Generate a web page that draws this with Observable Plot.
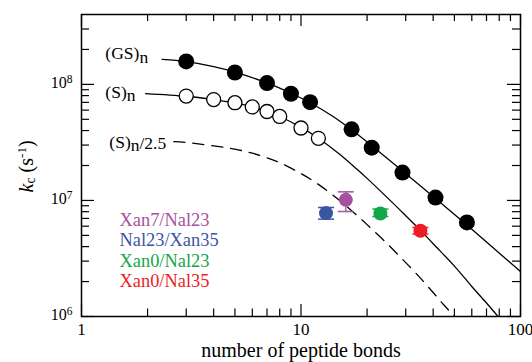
<!DOCTYPE html>
<html><head><meta charset="utf-8">
<script src="https://cdn.jsdelivr.net/npm/d3@7"></script>
<script src="https://cdn.jsdelivr.net/npm/@observablehq/plot@0.6"></script>
<style>
html,body{margin:0;padding:0;background:#fff;}
svg{font-family:"Liberation Serif","Times New Roman",serif;}
</style></head><body><div id="chart"></div>
<script>
// ---- data ----
const gsBonds = [3, 5, 7, 9, 11, 17, 21, 29, 41, 57];
const gsRate = [1.577e8, 1.266e8, 1.026e8, 8.30e7, 7.02e7, 4.10e7, 2.85e7, 1.737e7, 1.059e7, 6.46e6];
const sBonds = [3, 4, 5, 6, 7, 8, 10, 12];
const sRate = [7.93e7, 7.40e7, 6.95e7, 6.39e7, 5.84e7, 5.29e7, 4.21e7, 3.43e7];

const gsFitBonds = [2.33, 3, 4, 5, 7, 9, 11, 14, 17, 21, 29, 41, 57, 100];
const gsFitRate = [1.641e8, 1.570e8, 1.424e8, 1.277e8, 1.029e8, 8.386e7, 6.95e7, 5.29e7, 4.063e7, 2.965e7, 1.797e7, 1.040e7, 6.13e6, 2.437e6];
const sFitBonds = [1.957, 3, 4, 5, 6, 7, 8, 10, 12, 15, 18, 20, 25, 30, 35, 40, 50, 60, 70, 80];
const sFitRate = [8.34e7, 7.90e7, 7.39e7, 6.92e7, 6.38e7, 5.83e7, 5.29e7, 4.26e7, 3.44e7, 2.50e7, 1.855e7, 1.549e7, 1.036e7, 7.39e6, 5.54e6, 4.24e6, 2.72e6, 1.815e6, 1.307e6, 9.73e5];
const dashFitBonds = [2.634, 3, 4, 5, 6, 7, 8, 10, 12, 15, 18, 20, 25, 30, 35, 40, 45, 50, 55];
const dashFitRate = [3.21e7, 3.16e7, 2.953e7, 2.767e7, 2.551e7, 2.329e7, 2.113e7, 1.703e7, 1.375e7, 9.98e6, 7.42e6, 6.19e6, 4.14e6, 2.913e6, 2.143e6, 1.609e6, 1.243e6, 1.0e6, 8.11e5];

const pairNames = ["Xan7/Nal23", "Nal23/Xan35", "Xan0/Nal23", "Xan0/Nal35"];
const pairBonds = [16, 13, 23, 35];
const pairRate = [1.012e7, 7.78e6, 7.72e6, 5.48e6];
const pairLow = [8.03e6, 6.90e6, 7.27e6, 5.13e6];
const pairHigh = [1.186e7, 8.69e6, 8.42e6, 5.85e6];
const pairColors = ["#a6519f", "#3b55a5", "#12a64b", "#ec1c24"];

const curveLabels = ["(GS)n", "(S)n", "(S)n/2.5"];
const xTickLabels = [1, 10, 100];
const xMinor = [2, 3, 4, 5, 6, 7, 8, 9, 20, 30, 40, 50, 60, 70, 80, 90];
const yTickLabels = [1e6, 1e7, 1e8];
const yMinor = [2e6, 3e6, 4e6, 5e6, 6e6, 7e6, 8e6, 9e6, 2e7, 3e7, 4e7, 5e7, 6e7, 7e7, 8e7, 9e7, 2e8, 3e8];
const xTitle = "number of peptide bonds";
const yTitle = "kc (s-1)";

// ---- tables ----
const zip = (xs, ys) => xs.map((n, i) => ({n, k: ys[i]}));
const gs = zip(gsBonds, gsRate);
const s = zip(sBonds, sRate);
const gsFit = zip(gsFitBonds, gsFitRate);
const sFit = zip(sFitBonds, sFitRate);
const dashFit = zip(dashFitBonds, dashFitRate);
const pairs = pairNames.map((name, i) => ({name, n: pairBonds[i], k: pairRate[i], lo: pairLow[i], hi: pairHigh[i], color: pairColors[i]}));

const W = 532, H = 362, mL = 81, mR = 12, mT = 14, mB = 46;
const innerW = W - mL - mR, innerH = H - mT - mB;

const capSymbol = {draw(ctx, size) { const w = Math.sqrt(size / Math.PI); ctx.moveTo(-w, 0); ctx.lineTo(w, 0); }};

const plot = Plot.plot({
  width: W, height: H,
  marginLeft: mL, marginRight: mR, marginTop: mT, marginBottom: mB,
  style: {fontFamily: '"Liberation Serif","Times New Roman",serif', background: "white", color: "black"},
  x: {type: "log", domain: [1, 100], axis: null},
  y: {type: "log", domain: [1e6, 4e8], axis: null},
  marks: [
    // inward ticks on all four sides
    Plot.tickX(xTickLabels, {x: d => d, insetTop: innerH - 12, stroke: "black", strokeWidth: 1.2}),
    Plot.tickX(xTickLabels, {x: d => d, insetBottom: innerH - 12, stroke: "black", strokeWidth: 1.2}),
    Plot.tickX(xMinor, {x: d => d, insetTop: innerH - 7.5, stroke: "black", strokeWidth: 1.2}),
    Plot.tickX(xMinor, {x: d => d, insetBottom: innerH - 7, stroke: "black", strokeWidth: 1.2}),
    Plot.tickY(yTickLabels, {y: d => d, insetRight: innerW - 13, stroke: "black", strokeWidth: 1.2}),
    Plot.tickY(yTickLabels, {y: d => d, insetLeft: innerW - 13, stroke: "black", strokeWidth: 1.2}),
    Plot.tickY(yMinor, {y: d => d, insetRight: innerW - 8, stroke: "black", strokeWidth: 1.2}),
    Plot.tickY(yMinor, {y: d => d, insetLeft: innerW - 8, stroke: "black", strokeWidth: 1.2}),
    // fitted curves
    Plot.line(gsFit, {x: "n", y: "k", stroke: "black", strokeWidth: 1.3, curve: "catmull-rom", clip: true}),
    Plot.line(sFit, {x: "n", y: "k", stroke: "black", strokeWidth: 1.3, curve: "catmull-rom", clip: true}),
    Plot.line(dashFit, {x: "n", y: "k", stroke: "black", strokeWidth: 1.3, strokeDasharray: "11,8", curve: "catmull-rom", clip: true}),
    // error bars
    Plot.ruleX(pairs, {x: "n", y1: "lo", y2: "hi", stroke: "color", strokeWidth: 1.3}),
    Plot.dot(pairs, {x: "n", y: "lo", r: 8, symbol: capSymbol, stroke: "color", strokeWidth: 1.5, fill: "none"}),
    Plot.dot(pairs, {x: "n", y: "hi", r: 8, symbol: capSymbol, stroke: "color", strokeWidth: 1.5, fill: "none"}),
    Plot.dot(pairs, {x: "n", y: "k", r: 7, fill: "color", stroke: "none"}),
    // data points
    Plot.dot(gs, {x: "n", y: "k", r: 8, fill: "black", stroke: "none"}),
    Plot.dot(s, {x: "n", y: "k", r: 7, fill: "white", stroke: "black", strokeWidth: 1.3}),
    Plot.frame({stroke: "black", strokeWidth: 1.5}),
    // tick labels
    Plot.text(xTickLabels, {x: d => d, frameAnchor: "bottom", dy: 6, lineAnchor: "top", text: d => String(d), fontSize: 17, fill: "black"}),
    Plot.text(yTickLabels, {y: d => d, frameAnchor: "left", dx: -9, dy: -1.5, textAnchor: "end", text: d => "10^" + Math.round(Math.log10(d)), fontSize: 16, fill: "black"}),
    // axis titles
    Plot.text([xTitle], {frameAnchor: "bottom", dy: 40, text: d => d, fontSize: 20, fill: "black"}),
    Plot.text([yTitle], {frameAnchor: "left", dx: -55, dy: 27, rotate: -90, textAnchor: "start", lineAnchor: "middle", text: d => d, fontSize: 20, fill: "black"}),
    // curve labels at the start of each curve
    Plot.text([gsFit[0]], {x: "n", y: "k", text: () => curveLabels[0], textAnchor: "end", lineAnchor: "middle", dx: -14, dy: -5.8, fontSize: 17.5, fill: "black"}),
    Plot.text([sFit[0]], {x: "n", y: "k", text: () => curveLabels[1], textAnchor: "end", lineAnchor: "middle", dx: -10, dy: -1.4, fontSize: 17.5, fill: "black"}),
    Plot.text([dashFit[0]], {x: "n", y: "k", text: () => curveLabels[2], textAnchor: "end", lineAnchor: "middle", dx: -7.6, dy: 0.4, fontSize: 17.5, fill: "black"}),
    // coloured legend
    ...pairs.map((p, i) => Plot.text([p.name], {frameAnchor: "top-left", dx: 38, dy: 205.2 + 20.5 * i, textAnchor: "start", lineAnchor: "middle", text: d => d, fontSize: 18.4, fill: p.color}))
  ]
});

document.getElementById("chart").appendChild(plot);

// rich text (sub/superscripts, italics) as real tspans
function rich(node, segs) {
  const t = d3.select(node); t.text(null);
  let cur = 0;
  for (const [str, shift, fs, it] of segs) {
    const ts = t.append("tspan").text(str);
    const d = shift - cur; if (d) ts.attr("dy", d); cur = shift;
    if (fs) ts.attr("font-size", fs);
    if (it) ts.attr("font-style", "italic");
  }
}
d3.select(plot).selectAll("text").each(function() {
  const c = this.textContent;
  if (/^10\^\d+$/.test(c)) {
    const [b, e] = c.split("^");
    rich(this, [[b, 0], [e, -5.5, 11.5]]);
  } else if (c === yTitle) {
    rich(this, [["k", 0, null, true], ["c", 2.5, 14], [" (s", 0], ["-1", -7, 13], [")", 0]]);
  } else if (c === curveLabels[0]) {
    rich(this, [["(GS)", 0], ["n", 3.4]]);
  } else if (c === curveLabels[1]) {
    rich(this, [["(S)", 0], ["n", 3.4]]);
  } else if (c === curveLabels[2]) {
    rich(this, [["(S)", 0], ["n", 3.4], ["/2.5", 1]]);
  }
});
</script></body></html>
